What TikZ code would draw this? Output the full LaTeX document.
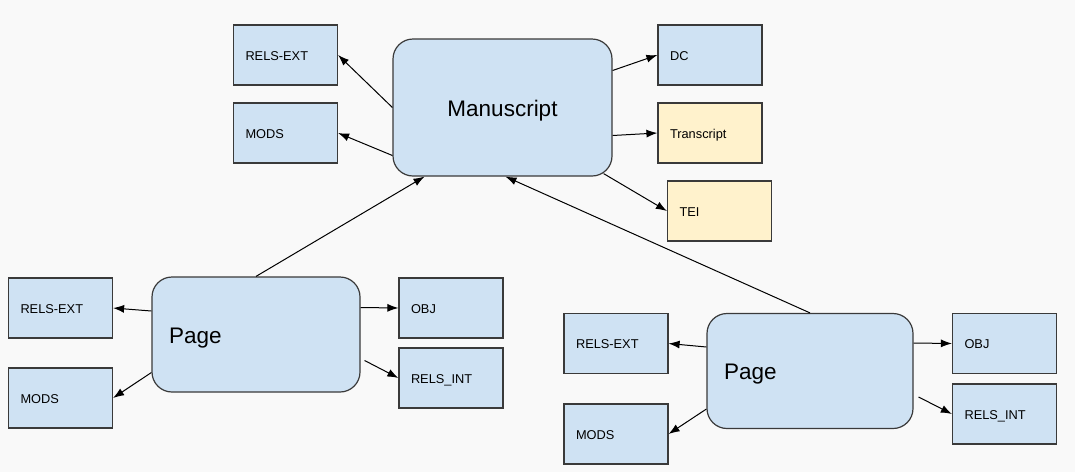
\documentclass[tikz,border=0pt]{standalone}
\usepackage{fontspec}
\setmainfont{Liberation Sans}
\usetikzlibrary{positioning, arrows.meta}
\definecolor{boxblue}{HTML}{CFE2F3}
\definecolor{boxyellow}{HTML}{FFF2CC}
\definecolor{boxline}{HTML}{3A3A3A}
\definecolor{bggray}{HTML}{F9F9F9}

\begin{document}
\begin{tikzpicture}
    [
        x=1pt, y=-1pt, on grid,
        blue_box/.style={rectangle, draw=boxline, fill=boxblue, line width=1.2pt, minimum height=60pt, text width=80pt, inner xsep=12pt, inner ysep=0pt, text height=10pt, text depth=0pt, align=left, font=\fontsize{12.8}{15}\selectfont},
        yellow_box/.style={blue_box, fill=boxyellow},
        big_node/.style={rectangle, rounded corners=20pt, draw=boxline, fill=boxblue, line width=1.2pt, inner ysep=0pt, text height=17pt, text depth=0pt, font=\fontsize{22.5}{26}\selectfont},
        page_node/.style={big_node, minimum height=115pt, text width=174pt, inner xsep=17pt, align=left},
        link/.style={-{Latex[length=11pt, width=8pt]}, line width=1pt, color=black},
    ]
        \fill[bggray] (0,0) rectangle (1075,472) ;
        \useasboundingbox (0,0) rectangle (1075,472) ;
        % manuscript and its datastreams
        \node[big_node, minimum width=219pt, minimum height=137pt] (ms) at (502.5,107.5) {Manuscript} ;
        \node[blue_box] (ms_rels) at (285.5,55) {RELS-EXT} ;
        \node[blue_box] (ms_mods) [below = 78pt of ms_rels] {MODS} ;
        \node[blue_box] (ms_dc) at (710,55) {DC} ;
        \node[yellow_box] (ms_trans) [below = 78pt of ms_dc] {Transcript} ;
        \node[yellow_box] (ms_tei) at (719.5,211) {TEI} ;
        % first page
        \node[page_node] (p1) at (256,334.5) {Page} ;
        \node[blue_box] (p1_rels) at (60.5,308) {RELS-EXT} ;
        \node[blue_box] (p1_mods) [below = 90pt of p1_rels] {MODS} ;
        \node[blue_box] (p1_obj) at (451,308) {OBJ} ;
        \node[blue_box] (p1_int) [below = 70pt of p1_obj] {RELS\_INT} ;
        % second page
        \node[page_node, text width=172pt] (p2) at (810,371) {Page} ;
        \node[blue_box] (p2_rels) at (616,343.5) {RELS-EXT} ;
        \node[blue_box] (p2_mods) [below = 90.5pt of p2_rels] {MODS} ;
        \node[blue_box] (p2_obj) at (1004.5,343.5) {OBJ} ;
        \node[blue_box] (p2_int) [below = 70.5pt of p2_obj] {RELS\_INT} ;
        % links
        \draw[link] (ms.west) -- (ms_rels.east) ;
        \draw[link] ([yshift=-48pt]ms.west) -- (ms_mods.east) ;
        \draw[link] ([yshift=37pt]ms.east) -- (ms_dc.west) ;
        \draw[link] ([yshift=-28pt]ms.east) -- (ms_trans.west) ;
        \draw[link] ([xshift=-9pt, yshift=3pt]ms.south east) -- (ms_tei.west) ;
        \draw[link] (p1.north) -- ([xshift=-78pt]ms.south) ;
        \draw[link] (p2.north) -- ([xshift=3pt]ms.south) ;
        \draw[link] ([yshift=23.5pt]p1.west) -- (p1_rels.east) ;
        \draw[link] ([yshift=-38pt]p1.west) -- (p1_mods.east) ;
        \draw[link] ([yshift=27pt]p1.east) -- (p1_obj.west) ;
        \draw[link] ([xshift=4pt, yshift=-26pt]p1.east) -- (p1_int.west) ;
        \draw[link] ([yshift=24pt]p2.west) -- (p2_rels.east) ;
        \draw[link] ([yshift=-38pt]p2.west) -- (p2_mods.east) ;
        \draw[link] ([yshift=28pt]p2.east) -- (p2_obj.west) ;
        \draw[link] ([xshift=5pt, yshift=-26pt]p2.east) -- (p2_int.west) ;
    \end{tikzpicture}
\end{document}
